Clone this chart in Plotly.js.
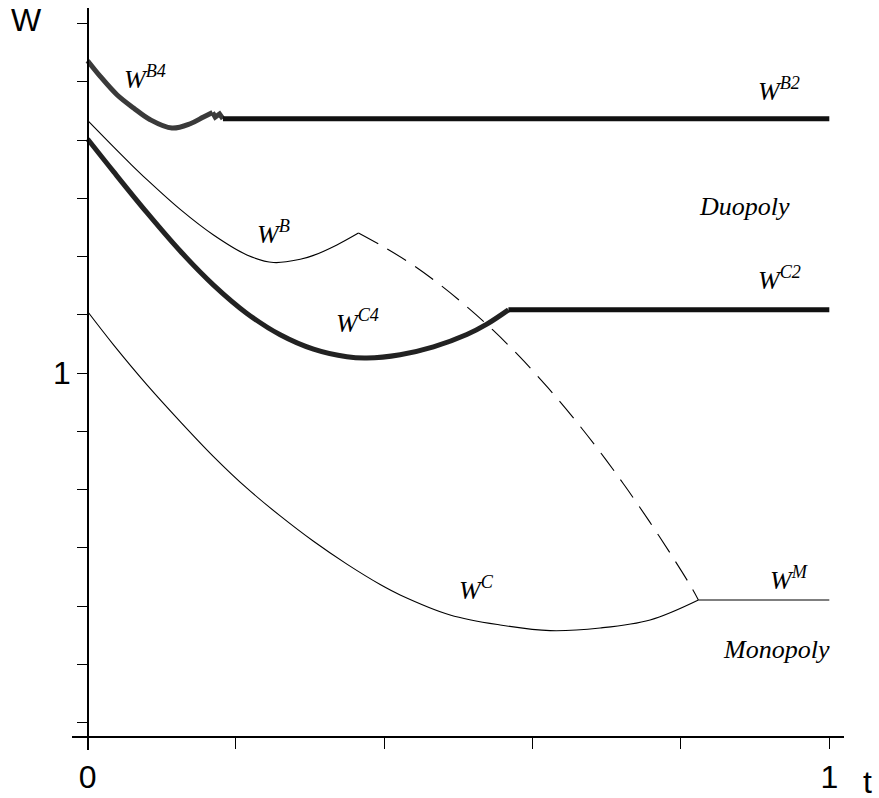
<!DOCTYPE html>
<html>
<head>
<meta charset="utf-8">
<script src="https://cdn.plot.ly/plotly-3.0.1.min.js"></script>
<style>html,body{margin:0;padding:0;background:#fff}#chart{width:879px;height:798px}</style>
</head>
<body>
<div id="chart"></div>
<script>
// ---- data ----
const tB4 = [0, 0.0171, 0.0396, 0.062, 0.0845, 0.1137, 0.1384, 0.1563, 0.1685];
const wB4 = [1.5364, 1.5095, 1.478, 1.4552, 1.4351, 1.4208, 1.4282, 1.4397, 1.4476];
const tB4jag = [0.1685, 0.1721, 0.1779, 0.1825];
const wB4jag = [1.4476, 1.4397, 1.4449, 1.4368];
const tB2 = [0.1825, 1];
const wB2 = [1.4368, 1.4368];

const tB = [0, 0.035, 0.0575, 0.0801, 0.1249, 0.1698, 0.2148, 0.2507, 0.2867, 0.3046, 0.3361, 0.3652];
const wB = [1.4339, 1.3884, 1.3598, 1.3322, 1.2811, 1.2371, 1.2029, 1.190, 1.1954, 1.2022, 1.2202, 1.2406];

const tBdash = [0.3652, 0.3985, 0.4349, 0.4753, 0.5117, 0.5467, 0.5832, 0.6209, 0.6596, 0.6977, 0.7291, 0.7583, 0.7876, 0.8123, 0.8235];
const wBdash = [1.2406, 1.2172, 1.1888, 1.1516, 1.1137, 1.0738, 1.0274, 0.9746, 0.9158, 0.8533, 0.798, 0.7437, 0.6866, 0.6362, 0.6106];

const tC4 = [0, 0.035, 0.0801, 0.1249, 0.1698, 0.2148, 0.2597, 0.3046, 0.3496, 0.3765, 0.4214, 0.4663, 0.5113, 0.5383, 0.5674];
const wC4 = [1.4019, 1.3459, 1.2755, 1.2096, 1.1512, 1.1026, 1.0658, 1.0411, 1.028, 1.0259, 1.0317, 1.0452, 1.0664, 1.0842, 1.1087];
const tC2 = [0.5674, 1];
const wC2 = [1.1087, 1.1087];

const tC = [0, 0.035, 0.0801, 0.1249, 0.1698, 0.2148, 0.2597, 0.3046, 0.3496, 0.3945, 0.4214, 0.4888, 0.5562, 0.6236, 0.691, 0.7584, 0.8235];
const wC = [1.1058, 1.0486, 0.9799, 0.9169, 0.8568, 0.8025, 0.7549, 0.7113, 0.6721, 0.6371, 0.6193, 0.5849, 0.5677, 0.5579, 0.5625, 0.5763, 0.6106];
const tM = [0.8235, 1];
const wM = [0.6106, 0.6106];

const yTickVals = [0.4, 0.5, 0.6, 0.7, 0.8, 0.9, 1.0, 1.1, 1.2, 1.3, 1.4, 1.5, 1.6];
const yLabelVals = [1];
const yLabelText = ['1'];
const xTickVals = [0, 0.2, 0.4, 0.6, 0.8, 1];
const xLabelVals = [0, 1];
const xLabelText = ['0', '1'];

const curveLabels = ['W<sup>B4</sup>', 'W<sup>B</sup>', 'W<sup>C4</sup>', 'W<sup>B2</sup>', 'W<sup>C2</sup>', 'W<sup>C</sup>', 'W<sup>M</sup>', 'Duopoly', 'Monopoly'];
const labelT = [0.0461, 0.2263, 0.3318, 0.9012, 0.9012, 0.4982, 0.9173, 0.8214, 0.8534];
const labelW = [1.5072, 1.241, 1.0881, 1.4866, 1.162, 0.6295, 0.6467, 1.2856, 0.5247];

// ---- traces ----
const thick = (x, y, c, shape) => ({x, y, type: 'scatter', mode: 'lines', hoverinfo: 'skip',
  line: {color: c, width: 5, shape: shape || 'spline', smoothing: 1}});
const thin = (x, y, dash) => ({x, y, type: 'scatter', mode: 'lines', hoverinfo: 'skip',
  line: {color: '#000', width: 1.1, dash: dash || 'solid', shape: 'spline', smoothing: 1}});

const traces = [
  thick(tB4, wB4, '#3a3a3a'),
  thick(tB4jag, wB4jag, '#3a3a3a', 'linear'),
  thick(tB2, wB2, '#111', 'linear'),
  thick(tC4, wC4, '#222'),
  thick(tC2, wC2, '#111', 'linear'),
  thin(tB, wB),
  thin(tBdash, wBdash, '22px,11px'),
  thin(tC, wC),
  thin(tM, wM)
];

const serif = {family: '"Liberation Serif", "Times New Roman", serif', size: 26, color: '#000'};
const annotations = curveLabels.map((txt, i) => ({
  x: labelT[i], y: labelW[i], xref: 'x', yref: 'y', text: '<i>' + txt + '</i>',
  showarrow: false, xanchor: 'left', yanchor: 'middle', font: serif
}));
const sans = {family: '"Liberation Sans", Arial, sans-serif', size: 32, color: '#000'};
annotations.push({xref: 'paper', yref: 'paper', x: -0.082, y: 1.0, xanchor: 'left', yanchor: 'top',
  yshift: 8, text: 'W', showarrow: false, font: sans});
annotations.push({xref: 'paper', yref: 'paper', x: 1.0215, y: 0.0, xanchor: 'left', yanchor: 'top',
  yshift: -12, text: 't', showarrow: false, font: sans});

const axisCommon = {showgrid: false, zeroline: false, tickcolor: '#000', tickwidth: 1, tickfont: sans};
const xr = [-0.021, 1.0198], yr = [0.353, 1.6269];

const layout = {
  width: 879, height: 798,
  margin: {l: 72, r: 35, t: 8, b: 48},
  paper_bgcolor: '#fff', plot_bgcolor: '#fff',
  showlegend: false,
  xaxis: Object.assign({}, axisCommon, {
    range: xr, anchor: 'free', position: 0.0171,
    showline: true, linecolor: '#000', linewidth: 2,
    ticks: 'outside', ticklen: 11, tickvals: xTickVals, showticklabels: false
  }),
  xaxis2: Object.assign({}, axisCommon, {
    range: xr, overlaying: 'x', anchor: 'free', position: 0.0171, side: 'bottom',
    showline: false, ticks: 'outside', ticklen: 11, tickvals: xLabelVals, ticktext: xLabelText
  }),
  yaxis: Object.assign({}, axisCommon, {
    range: yr, anchor: 'free', position: 0.0198,
    showline: true, linecolor: '#000', linewidth: 1.5,
    ticks: 'outside', ticklen: 10, tickvals: yTickVals, showticklabels: false
  }),
  yaxis2: Object.assign({}, axisCommon, {
    range: yr, overlaying: 'y', anchor: 'free', position: 0.0198, side: 'left',
    showline: false, ticks: 'outside', ticklen: 10, tickvals: yLabelVals, ticktext: yLabelText
  }),
  annotations: annotations
};

// invisible anchor trace so the label axes are drawn
traces.push({x: [0], y: [1], xaxis: 'x2', yaxis: 'y2', type: 'scatter', mode: 'markers',
  marker: {opacity: 0}, hoverinfo: 'skip'});

Plotly.newPlot('chart', traces, layout, {staticPlot: true, displayModeBar: false});
</script>
</body>
</html>
